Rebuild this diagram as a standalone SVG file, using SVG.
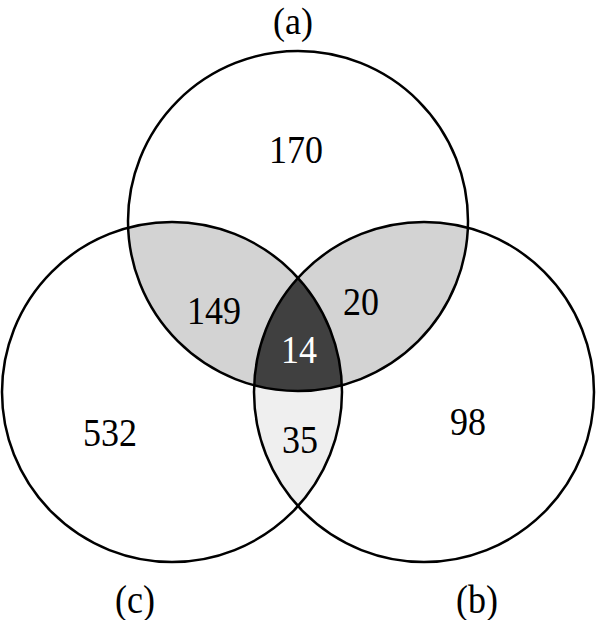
<svg xmlns="http://www.w3.org/2000/svg" width="598" height="620" viewBox="0 0 598 620">
<style>
.ring{fill:none;stroke:#000;stroke-width:2.5}
.lbl{font-family:"Liberation Serif","Times New Roman",serif;font-size:36px;text-anchor:middle;fill:#000}
.inv{fill:#fff}
</style>
<defs>
<clipPath id="clipA"><circle cx="298" cy="221" r="170"/></clipPath>
<clipPath id="clipC"><circle cx="172" cy="392" r="170"/></clipPath>
</defs>
<rect width="598" height="620" fill="#fff"/>
<g id="shading">
<g clip-path="url(#clipA)">
<circle cx="172" cy="392" r="170" fill="#d3d3d3"/>
<circle cx="424" cy="392" r="170" fill="#d3d3d3"/>
</g>
<g clip-path="url(#clipC)">
<circle cx="424" cy="392" r="170" fill="#efefef"/>
<g clip-path="url(#clipA)">
<circle cx="424" cy="392" r="170" fill="#404040"/>
</g>
</g>
</g>
<g id="set-a">
<circle class="ring" cx="298" cy="221" r="170"/>
<text class="lbl" transform="translate(293,34) scale(1,1.06)">(a)</text>
</g>
<g id="set-c">
<circle class="ring" cx="172" cy="392" r="170"/>
<text class="lbl" transform="translate(135,613) scale(1,1.14)">(c)</text>
</g>
<g id="set-b">
<circle class="ring" cx="424" cy="392" r="170"/>
<text class="lbl" transform="translate(477,613) scale(1,1.14)">(b)</text>
</g>
<g id="counts">
<text class="lbl" transform="translate(296,163) scale(1,1.14)">170</text>
<text class="lbl" transform="translate(214,324) scale(1,1.14)">149</text>
<text class="lbl" transform="translate(361,315) scale(1,1.14)">20</text>
<text class="lbl inv" transform="translate(299,363) scale(1,1.14)">14</text>
<text class="lbl" transform="translate(110,446) scale(1,1.14)">532</text>
<text class="lbl" transform="translate(300,453) scale(1,1.14)">35</text>
<text class="lbl" transform="translate(468,435) scale(1,1.14)">98</text>
</g>
</svg>
